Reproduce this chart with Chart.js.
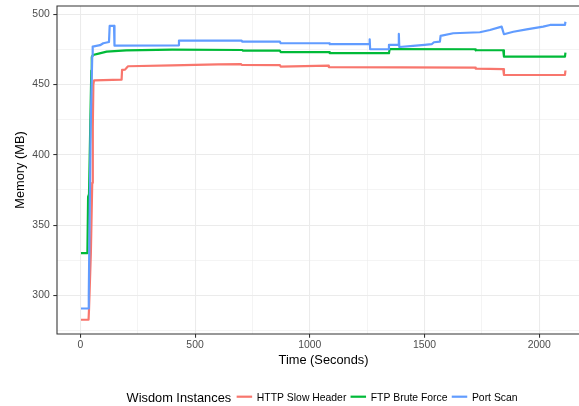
<!DOCTYPE html>
<html>
<head>
<meta charset="utf-8">
<script src="https://cdn.jsdelivr.net/npm/chart.js@4/dist/chart.umd.min.js"></script>
<style>
html, body { margin: 0; padding: 0; overflow: hidden; background: #fff; }
#wrap { width: 590px; height: 406px; position: relative; }
</style>
</head>
<body>
<div id="wrap"><canvas id="c" width="590" height="406"></canvas></div>
<script>
// ---- data ----
const seriesNames = ['HTTP Slow Header', 'FTP Brute Force', 'Port Scan'];
const seriesColors = ['#F8766D', '#00BA38', '#619CFF'];

const timeHttp = [3, 36, 38, 46, 52, 54, 55, 57, 60, 180, 182, 195, 205, 208, 400, 600, 700, 703, 870, 873, 1080, 1083, 1720, 1723, 1843, 1846, 2112, 2114];
const memHttp  = [282.6, 282.6, 290, 330, 380, 400, 420, 450, 453, 453.5, 460.4, 460.6, 462.5, 463, 463.6, 464.3, 464.6, 464, 463.8, 462.8, 463.4, 462.4, 462.1, 461.3, 461, 456.8, 456.8, 460];

const timeFtp = [3, 31, 34, 38, 43, 48, 50, 55, 80, 115, 200, 400, 706, 709, 870, 873, 1084, 1087, 1345, 1348, 1720, 1723, 1843, 1846, 2112, 2114];
const memFtp  = [330, 330, 370, 372, 417, 460, 469.5, 471, 472, 473.4, 474.3, 474.8, 474.6, 474.1, 474.1, 473.1, 473.1, 472.3, 472.3, 475.2, 475.1, 474.4, 474.4, 469.9, 469.9, 472.7];

const timeScan = [3, 34, 37, 45, 52, 54, 70, 86, 100, 125, 128, 147, 149, 427, 430, 703, 706, 870, 873, 1084, 1087, 1260, 1261, 1263, 1342, 1345, 1386, 1388, 1390, 1450, 1500, 1531, 1541, 1567, 1570, 1625, 1741, 1785, 1836, 1846, 1887, 1945, 2017, 2047, 2112, 2114];
const memScan  = [290.6, 290.6, 300, 419, 470, 477, 477.5, 478, 479.4, 480.3, 491.7, 491.7, 477.7, 477.9, 481.3, 481.3, 480.5, 480.5, 479.4, 479.4, 478.7, 478.7, 482.2, 475.1, 475.1, 478.2, 478.2, 486, 476.7, 477.5, 478.2, 478.7, 480.1, 480.5, 484.6, 486.5, 487.2, 488.8, 491.2, 485.8, 487.6, 489.3, 491.2, 492.4, 492.4, 494.7];

const xMajorTicks = [0, 500, 1000, 1500, 2000];
const xMinorTicks = [250, 750, 1250, 1750];
const yMajorTicks = [300, 350, 400, 450, 500];
const yMinorTicks = [275, 325, 375, 425, 475];

const xTitle = 'Time (Seconds)';
const yTitle = 'Memory (MB)';
const legendTitle = 'Wisdom Instances';

// ---- build ----
const FONT = '"Liberation Sans", Arial, Helvetica, sans-serif';
const toPts = (t, m) => t.map((v, i) => ({x: v, y: m[i]}));
const allX = xMajorTicks.concat(xMinorTicks).sort((a, b) => a - b);
const allY = yMajorTicks.concat(yMinorTicks).sort((a, b) => a - b);

const mk = (i, t, m, order) => ({
  label: seriesNames[i],
  data: toPts(t, m),
  borderColor: seriesColors[i],
  backgroundColor: seriesColors[i],
  borderWidth: 2.2,
  pointRadius: 0,
  tension: 0,
  fill: false,
  borderJoinStyle: 'round',
  order: order
});

const gridW = ctx => (ctx.tick && ctx.tick.major) ? 1.07 : 0.53;
const tickC = ctx => (ctx.tick && ctx.tick.major) ? '#333333' : 'rgba(0,0,0,0)';

const borderPlugin = {
  id: 'panelBorder',
  afterDatasetsDraw(chart) {
    const {ctx, chartArea: a} = chart;
    ctx.save();
    ctx.strokeStyle = '#333333';
    ctx.lineWidth = 1.07;
    ctx.beginPath();
    ctx.moveTo(a.right + 2, a.top);
    ctx.lineTo(a.left, a.top);
    ctx.lineTo(a.left, a.bottom);
    ctx.lineTo(a.right + 2, a.bottom);
    ctx.stroke();
    ctx.restore();
  }
};

const legendPlugin = {
  id: 'ggLegend',
  afterDraw(chart) {
    const ctx = chart.ctx;
    ctx.save();
    ctx.textBaseline = 'alphabetic';
    ctx.textAlign = 'left';
    ctx.fillStyle = '#000000';
    ctx.font = '12.8px ' + FONT;
    let x = 126.6;
    ctx.fillText(legendTitle, x, 401.5);
    x += ctx.measureText(legendTitle).width + 5.5;
    ctx.font = '10.4px ' + FONT;
    seriesNames.forEach((name, i) => {
      ctx.strokeStyle = seriesColors[i];
      ctx.lineWidth = 2.2;
      ctx.beginPath();
      ctx.moveTo(x, 396.7);
      ctx.lineTo(x + 15.5, 396.7);
      ctx.stroke();
      ctx.fillStyle = '#000000';
      ctx.fillText(name, x + 20.2, 400.8);
      x += 20.2 + ctx.measureText(name).width + 4.2;
    });
    ctx.restore();
  }
};

new Chart(document.getElementById('c'), {
  type: 'line',
  data: {
    datasets: [
      mk(0, timeHttp, memHttp, 2),
      mk(1, timeFtp, memFtp, 1),
      mk(2, timeScan, memScan, 0)
    ]
  },
  options: {
    responsive: false,
    animation: false,
    events: [],
    layout: {padding: {left: 0, top: 6, right: 0, bottom: 0}},
    plugins: {legend: {display: false}, tooltip: {enabled: false}},
    scales: {
      x: {
        type: 'linear',
        min: -101.5,
        max: 2221,
        afterBuildTicks: s => { s.ticks = allX.map(v => ({value: v, major: xMajorTicks.includes(v)})); },
        afterFit: s => { s.height = 72; s.paddingLeft = 0; s.paddingRight = 0; },
        ticks: {
          autoSkip: false,
          maxRotation: 0,
          padding: 1.4,
          color: '#4D4D4D',
          font: {family: FONT, size: 10.4},
          callback: v => xMajorTicks.includes(v) ? String(v) : ''
        },
        grid: {color: '#EBEBEB', lineWidth: gridW, tickLength: 3.7, tickColor: tickC, tickWidth: 1.07},
        border: {display: false},
        title: {display: true, text: xTitle, color: '#000000', font: {family: FONT, size: 12.8}, padding: {top: 0, bottom: 37.4}}
      },
      y: {
        type: 'linear',
        min: 272.45,
        max: 505.9,
        afterBuildTicks: s => { s.ticks = allY.map(v => ({value: v, major: yMajorTicks.includes(v)})); },
        afterFit: s => { s.width = 57; s.paddingTop = 0; s.paddingBottom = 0; },
        ticks: {
          autoSkip: false,
          padding: 3.6,
          color: '#4D4D4D',
          font: {family: FONT, size: 10.4},
          callback: v => yMajorTicks.includes(v) ? String(v) : ''
        },
        grid: {color: '#EBEBEB', lineWidth: gridW, tickLength: 3.7, tickColor: tickC, tickWidth: 1.07},
        border: {display: false},
        title: {display: true, text: yTitle, color: '#000000', font: {family: FONT, size: 12.8}, padding: {top: 12.6, bottom: 0}}
      }
    }
  },
  plugins: [borderPlugin, legendPlugin]
});
</script>
</body>
</html>
